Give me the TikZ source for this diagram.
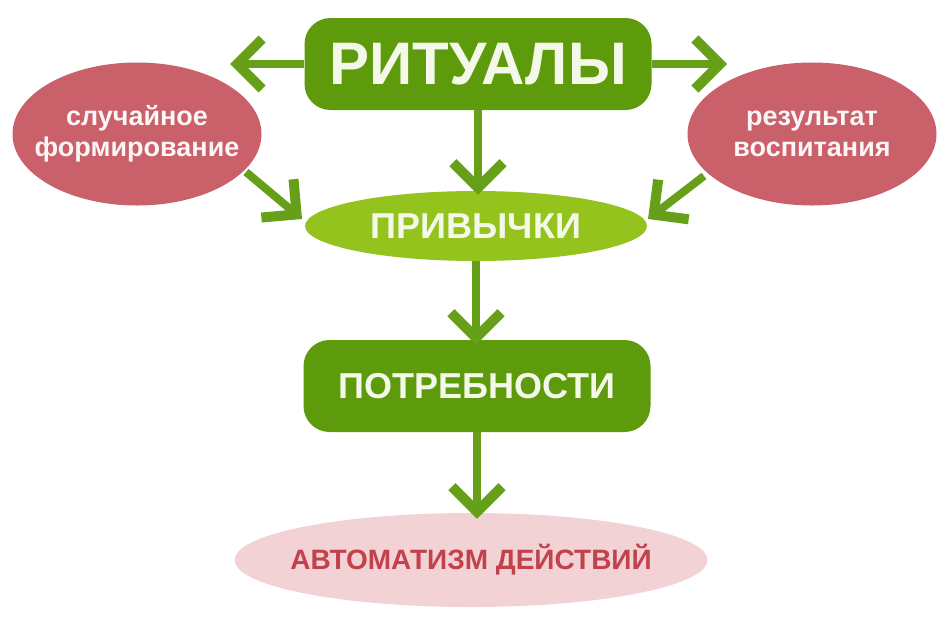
\documentclass[tikz,border=0pt]{standalone}
\usepackage{fontspec}
\setmainfont{Liberation Sans}
\usetikzlibrary{shapes.geometric,arrows.meta}
\definecolor{dgreen}{HTML}{5E9B0C}
\definecolor{agreen}{HTML}{66A019}
\definecolor{lgreen}{HTML}{95C31E}
\definecolor{rosy}{HTML}{C9606A}
\definecolor{pinkish}{HTML}{F2D2D5}
\definecolor{dred}{HTML}{C2424C}
\definecolor{paletxt}{HTML}{F4F8E8}
\begin{document}
\begin{tikzpicture}[x=1pt,y=-1pt,
  gbox/.style={fill=dgreen,rounded corners=26pt,minimum width=347pt,minimum height=92pt,text=paletxt,font=\bfseries},
  rell/.style={ellipse,fill=rosy,minimum width=249pt,minimum height=143pt,text=white!94!rosy,font=\bfseries\fontsize{27}{31}\selectfont,align=center,inner xsep=-25pt,inner ysep=0pt},
  garrow/.style={draw=agreen,line width=8pt,-{Straight Barb[length=25pt,width=50pt,line width=10pt]}},
  ]
\useasboundingbox (0,0) rectangle (952,624);
\fill[white] (0,0) rectangle (952,624);
\node[rell] (sl) at (137,134) {случайное\\формирование};
\node[rell] (rez) at (812,134) {результат\\воспитания};
\node[gbox,font=\bfseries\fontsize{60}{66}\selectfont] (rit) at (478,64) {РИТУАЛЫ};
\node[ellipse,fill=lgreen,minimum width=342pt,minimum height=70pt,text=paletxt,font=\bfseries\fontsize{36}{40}\selectfont,inner xsep=-20pt,inner ysep=0pt] (pri) at (476,226) {ПРИВЫЧКИ};
\node[gbox,font=\bfseries\fontsize{36}{40}\selectfont] (pot) at (477,386) {ПОТРЕБНОСТИ};
\node[ellipse,fill=pinkish,minimum width=473pt,minimum height=94pt,text=dred,font=\bfseries\fontsize{28}{32}\selectfont,inner xsep=-25pt,inner ysep=0pt] (avt) at (471,560) {АВТОМАТИЗМ ДЕЙСТВИЙ};
\coordinate (lt) at (230,64);
\coordinate (rt) at (727,64);
\draw[garrow] (rit.west) -- (lt);
\draw[garrow] (rit.east) -- (rt);
\draw[garrow] (rit.south) -- ([yshift=-4pt]rit.south |- pri.north);
\draw[garrow] (pri.south) -- ([yshift=-5pt]pri.south |- pot.north);
\draw[garrow] (pot.south) -- ([yshift=-6pt]pot.south |- avt.north);
\coordinate (sla) at (246,172);
\coordinate (slb) at (302,219);
\coordinate (reza) at (704,176);
\coordinate (rezb) at (648,219);
\draw[garrow] (sla) -- (slb);
\draw[garrow] (reza) -- (rezb);
\end{tikzpicture}
\end{document}
